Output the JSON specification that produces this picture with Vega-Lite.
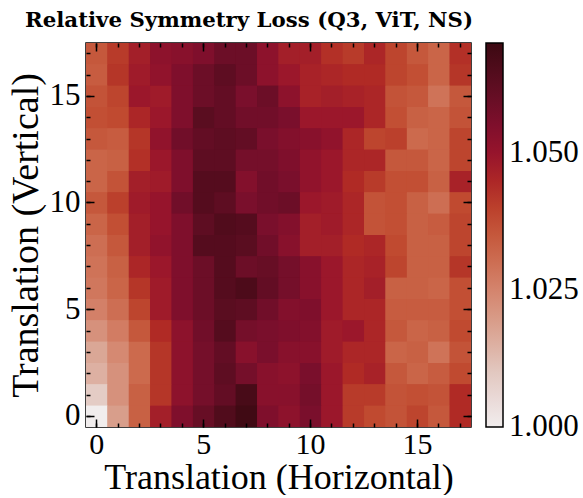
{
"$schema": "https://vega.github.io/schema/vega-lite/v6.json",
"width": 385, "height": 384,
"padding": {"left": 7, "top": 9, "right": 0, "bottom": 0},
"background": "white",
"config": {"view": {"stroke": "black", "strokeWidth": 1.5}, "font": "Liberation Serif",
  "axis": {"domain": false, "tickColor": "black", "tickWidth": 1.5, "labelColor": "black", "titleColor": "black", "labelFont": "Liberation Serif", "titleFont": "Liberation Serif", "labelFontSize": 31, "titleFontSize": 38, "titleFontWeight": "normal", "grid": false, "labelAngle": 0}},
"title": {"text": "Relative Symmetry Loss (Q3, ViT, NS)", "font": "DejaVu Serif", "fontWeight": "bold", "fontSize": 21.3, "anchor": "start", "frame": "group", "dx": -61, "offset": 11, "color": "black"},
"data": {"values": [
{"x":0,"y":17,"v":1.035},{"x":1,"y":17,"v":1.041},{"x":2,"y":17,"v":1.047},{"x":3,"y":17,"v":1.052},{"x":4,"y":17,"v":1.053},{"x":5,"y":17,"v":1.055},{"x":6,"y":17,"v":1.059},{"x":7,"y":17,"v":1.059},{"x":8,"y":17,"v":1.052},{"x":9,"y":17,"v":1.047},{"x":10,"y":17,"v":1.047},{"x":11,"y":17,"v":1.043},{"x":12,"y":17,"v":1.041},{"x":13,"y":17,"v":1.045},{"x":14,"y":17,"v":1.039},{"x":15,"y":17,"v":1.035},{"x":16,"y":17,"v":1.032},{"x":17,"y":17,"v":1.043},
{"x":0,"y":16,"v":1.034},{"x":1,"y":16,"v":1.042},{"x":2,"y":16,"v":1.048},{"x":3,"y":16,"v":1.051},{"x":4,"y":16,"v":1.055},{"x":5,"y":16,"v":1.059},{"x":6,"y":16,"v":1.062},{"x":7,"y":16,"v":1.059},{"x":8,"y":16,"v":1.052},{"x":9,"y":16,"v":1.049},{"x":10,"y":16,"v":1.046},{"x":11,"y":16,"v":1.045},{"x":12,"y":16,"v":1.044},{"x":13,"y":16,"v":1.044},{"x":14,"y":16,"v":1.039},{"x":15,"y":16,"v":1.037},{"x":16,"y":16,"v":1.032},{"x":17,"y":16,"v":1.042},
{"x":0,"y":15,"v":1.036},{"x":1,"y":15,"v":1.039},{"x":2,"y":15,"v":1.049},{"x":3,"y":15,"v":1.048},{"x":4,"y":15,"v":1.055},{"x":5,"y":15,"v":1.059},{"x":6,"y":15,"v":1.061},{"x":7,"y":15,"v":1.056},{"x":8,"y":15,"v":1.059},{"x":9,"y":15,"v":1.052},{"x":10,"y":15,"v":1.046},{"x":11,"y":15,"v":1.047},{"x":12,"y":15,"v":1.046},{"x":13,"y":15,"v":1.045},{"x":14,"y":15,"v":1.036},{"x":15,"y":15,"v":1.035},{"x":16,"y":15,"v":1.029},{"x":17,"y":15,"v":1.035},
{"x":0,"y":14,"v":1.037},{"x":1,"y":14,"v":1.038},{"x":2,"y":14,"v":1.045},{"x":3,"y":14,"v":1.049},{"x":4,"y":14,"v":1.055},{"x":5,"y":14,"v":1.063},{"x":6,"y":14,"v":1.061},{"x":7,"y":14,"v":1.058},{"x":8,"y":14,"v":1.058},{"x":9,"y":14,"v":1.056},{"x":10,"y":14,"v":1.049},{"x":11,"y":14,"v":1.049},{"x":12,"y":14,"v":1.049},{"x":13,"y":14,"v":1.045},{"x":14,"y":14,"v":1.037},{"x":15,"y":14,"v":1.033},{"x":16,"y":14,"v":1.032},{"x":17,"y":14,"v":1.036},
{"x":0,"y":13,"v":1.035},{"x":1,"y":13,"v":1.034},{"x":2,"y":13,"v":1.042},{"x":3,"y":13,"v":1.051},{"x":4,"y":13,"v":1.058},{"x":5,"y":13,"v":1.061},{"x":6,"y":13,"v":1.062},{"x":7,"y":13,"v":1.061},{"x":8,"y":13,"v":1.056},{"x":9,"y":13,"v":1.054},{"x":10,"y":13,"v":1.053},{"x":11,"y":13,"v":1.051},{"x":12,"y":13,"v":1.045},{"x":13,"y":13,"v":1.039},{"x":14,"y":13,"v":1.040},{"x":15,"y":13,"v":1.031},{"x":16,"y":13,"v":1.032},{"x":17,"y":13,"v":1.039},
{"x":0,"y":12,"v":1.032},{"x":1,"y":12,"v":1.033},{"x":2,"y":12,"v":1.043},{"x":3,"y":12,"v":1.049},{"x":4,"y":12,"v":1.055},{"x":5,"y":12,"v":1.062},{"x":6,"y":12,"v":1.062},{"x":7,"y":12,"v":1.057},{"x":8,"y":12,"v":1.057},{"x":9,"y":12,"v":1.055},{"x":10,"y":12,"v":1.051},{"x":11,"y":12,"v":1.049},{"x":12,"y":12,"v":1.045},{"x":13,"y":12,"v":1.045},{"x":14,"y":12,"v":1.035},{"x":15,"y":12,"v":1.035},{"x":16,"y":12,"v":1.032},{"x":17,"y":12,"v":1.039},
{"x":0,"y":11,"v":1.032},{"x":1,"y":11,"v":1.036},{"x":2,"y":11,"v":1.047},{"x":3,"y":11,"v":1.048},{"x":4,"y":11,"v":1.055},{"x":5,"y":11,"v":1.064},{"x":6,"y":11,"v":1.064},{"x":7,"y":11,"v":1.054},{"x":8,"y":11,"v":1.058},{"x":9,"y":11,"v":1.056},{"x":10,"y":11,"v":1.051},{"x":11,"y":11,"v":1.049},{"x":12,"y":11,"v":1.044},{"x":13,"y":11,"v":1.041},{"x":14,"y":11,"v":1.037},{"x":15,"y":11,"v":1.037},{"x":16,"y":11,"v":1.033},{"x":17,"y":11,"v":1.046},
{"x":0,"y":10,"v":1.035},{"x":1,"y":10,"v":1.040},{"x":2,"y":10,"v":1.048},{"x":3,"y":10,"v":1.050},{"x":4,"y":10,"v":1.058},{"x":5,"y":10,"v":1.064},{"x":6,"y":10,"v":1.062},{"x":7,"y":10,"v":1.056},{"x":8,"y":10,"v":1.058},{"x":9,"y":10,"v":1.059},{"x":10,"y":10,"v":1.049},{"x":11,"y":10,"v":1.048},{"x":12,"y":10,"v":1.045},{"x":13,"y":10,"v":1.036},{"x":14,"y":10,"v":1.037},{"x":15,"y":10,"v":1.033},{"x":16,"y":10,"v":1.030},{"x":17,"y":10,"v":1.038},
{"x":0,"y":9,"v":1.032},{"x":1,"y":9,"v":1.037},{"x":2,"y":9,"v":1.047},{"x":3,"y":9,"v":1.050},{"x":4,"y":9,"v":1.055},{"x":5,"y":9,"v":1.062},{"x":6,"y":9,"v":1.065},{"x":7,"y":9,"v":1.064},{"x":8,"y":9,"v":1.056},{"x":9,"y":9,"v":1.054},{"x":10,"y":9,"v":1.047},{"x":11,"y":9,"v":1.048},{"x":12,"y":9,"v":1.045},{"x":13,"y":9,"v":1.036},{"x":14,"y":9,"v":1.037},{"x":15,"y":9,"v":1.033},{"x":16,"y":9,"v":1.034},{"x":17,"y":9,"v":1.039},
{"x":0,"y":8,"v":1.030},{"x":1,"y":8,"v":1.035},{"x":2,"y":8,"v":1.047},{"x":3,"y":8,"v":1.051},{"x":4,"y":8,"v":1.055},{"x":5,"y":8,"v":1.064},{"x":6,"y":8,"v":1.064},{"x":7,"y":8,"v":1.063},{"x":8,"y":8,"v":1.058},{"x":9,"y":8,"v":1.053},{"x":10,"y":8,"v":1.047},{"x":11,"y":8,"v":1.047},{"x":12,"y":8,"v":1.044},{"x":13,"y":8,"v":1.045},{"x":14,"y":8,"v":1.038},{"x":15,"y":8,"v":1.033},{"x":16,"y":8,"v":1.033},{"x":17,"y":8,"v":1.039},
{"x":0,"y":7,"v":1.029},{"x":1,"y":7,"v":1.033},{"x":2,"y":7,"v":1.045},{"x":3,"y":7,"v":1.049},{"x":4,"y":7,"v":1.055},{"x":5,"y":7,"v":1.059},{"x":6,"y":7,"v":1.064},{"x":7,"y":7,"v":1.059},{"x":8,"y":7,"v":1.060},{"x":9,"y":7,"v":1.057},{"x":10,"y":7,"v":1.053},{"x":11,"y":7,"v":1.049},{"x":12,"y":7,"v":1.045},{"x":13,"y":7,"v":1.046},{"x":14,"y":7,"v":1.039},{"x":15,"y":7,"v":1.033},{"x":16,"y":7,"v":1.033},{"x":17,"y":7,"v":1.042},
{"x":0,"y":6,"v":1.028},{"x":1,"y":6,"v":1.032},{"x":2,"y":6,"v":1.042},{"x":3,"y":6,"v":1.048},{"x":4,"y":6,"v":1.055},{"x":5,"y":6,"v":1.059},{"x":6,"y":6,"v":1.064},{"x":7,"y":6,"v":1.066},{"x":8,"y":6,"v":1.061},{"x":9,"y":6,"v":1.057},{"x":10,"y":6,"v":1.053},{"x":11,"y":6,"v":1.049},{"x":12,"y":6,"v":1.045},{"x":13,"y":6,"v":1.047},{"x":14,"y":6,"v":1.033},{"x":15,"y":6,"v":1.033},{"x":16,"y":6,"v":1.032},{"x":17,"y":6,"v":1.037},
{"x":0,"y":5,"v":1.026},{"x":1,"y":5,"v":1.030},{"x":2,"y":5,"v":1.039},{"x":3,"y":5,"v":1.048},{"x":4,"y":5,"v":1.055},{"x":5,"y":5,"v":1.059},{"x":6,"y":5,"v":1.063},{"x":7,"y":5,"v":1.062},{"x":8,"y":5,"v":1.058},{"x":9,"y":5,"v":1.054},{"x":10,"y":5,"v":1.055},{"x":11,"y":5,"v":1.049},{"x":12,"y":5,"v":1.045},{"x":13,"y":5,"v":1.045},{"x":14,"y":5,"v":1.034},{"x":15,"y":5,"v":1.034},{"x":16,"y":5,"v":1.034},{"x":17,"y":5,"v":1.037},
{"x":0,"y":4,"v":1.022},{"x":1,"y":4,"v":1.027},{"x":2,"y":4,"v":1.035},{"x":3,"y":4,"v":1.044},{"x":4,"y":4,"v":1.052},{"x":5,"y":4,"v":1.058},{"x":6,"y":4,"v":1.064},{"x":7,"y":4,"v":1.057},{"x":8,"y":4,"v":1.056},{"x":9,"y":4,"v":1.055},{"x":10,"y":4,"v":1.054},{"x":11,"y":4,"v":1.048},{"x":12,"y":4,"v":1.049},{"x":13,"y":4,"v":1.045},{"x":14,"y":4,"v":1.035},{"x":15,"y":4,"v":1.032},{"x":16,"y":4,"v":1.033},{"x":17,"y":4,"v":1.038},
{"x":0,"y":3,"v":1.017},{"x":1,"y":3,"v":1.024},{"x":2,"y":3,"v":1.031},{"x":3,"y":3,"v":1.042},{"x":4,"y":3,"v":1.052},{"x":5,"y":3,"v":1.057},{"x":6,"y":3,"v":1.061},{"x":7,"y":3,"v":1.053},{"x":8,"y":3,"v":1.056},{"x":9,"y":3,"v":1.053},{"x":10,"y":3,"v":1.053},{"x":11,"y":3,"v":1.048},{"x":12,"y":3,"v":1.045},{"x":13,"y":3,"v":1.045},{"x":14,"y":3,"v":1.032},{"x":15,"y":3,"v":1.033},{"x":16,"y":3,"v":1.029},{"x":17,"y":3,"v":1.036},
{"x":0,"y":2,"v":1.015},{"x":1,"y":2,"v":1.022},{"x":2,"y":2,"v":1.031},{"x":3,"y":2,"v":1.042},{"x":4,"y":2,"v":1.052},{"x":5,"y":2,"v":1.057},{"x":6,"y":2,"v":1.062},{"x":7,"y":2,"v":1.057},{"x":8,"y":2,"v":1.053},{"x":9,"y":2,"v":1.052},{"x":10,"y":2,"v":1.056},{"x":11,"y":2,"v":1.049},{"x":12,"y":2,"v":1.044},{"x":13,"y":2,"v":1.046},{"x":14,"y":2,"v":1.035},{"x":15,"y":2,"v":1.032},{"x":16,"y":2,"v":1.034},{"x":17,"y":2,"v":1.038},
{"x":0,"y":1,"v":1.009},{"x":1,"y":1,"v":1.022},{"x":2,"y":1,"v":1.033},{"x":3,"y":1,"v":1.042},{"x":4,"y":1,"v":1.052},{"x":5,"y":1,"v":1.057},{"x":6,"y":1,"v":1.061},{"x":7,"y":1,"v":1.067},{"x":8,"y":1,"v":1.053},{"x":9,"y":1,"v":1.053},{"x":10,"y":1,"v":1.057},{"x":11,"y":1,"v":1.049},{"x":12,"y":1,"v":1.041},{"x":13,"y":1,"v":1.041},{"x":14,"y":1,"v":1.036},{"x":15,"y":1,"v":1.037},{"x":16,"y":1,"v":1.036},{"x":17,"y":1,"v":1.044},
{"x":0,"y":0,"v":1.000},{"x":1,"y":0,"v":1.019},{"x":2,"y":0,"v":1.033},{"x":3,"y":0,"v":1.047},{"x":4,"y":0,"v":1.055},{"x":5,"y":0,"v":1.060},{"x":6,"y":0,"v":1.065},{"x":7,"y":0,"v":1.069},{"x":8,"y":0,"v":1.055},{"x":9,"y":0,"v":1.052},{"x":10,"y":0,"v":1.056},{"x":11,"y":0,"v":1.049},{"x":12,"y":0,"v":1.041},{"x":13,"y":0,"v":1.038},{"x":14,"y":0,"v":1.036},{"x":15,"y":0,"v":1.039},{"x":16,"y":0,"v":1.035},{"x":17,"y":0,"v":1.044}
]},
"layer": [
  {"mark": {"type": "rect"},
   "encoding": {
     "x": {"field": "x", "type": "ordinal", "scale": {"paddingInner": 0, "paddingOuter": 0},
           "axis": {"orient": "bottom", "values": [0,5,10,15], "tickSize": -8, "labelPadding": 10, "labelFontSize": 30, "title": "Translation (Horizontal)", "titlePadding": 1, "titleFontSize": 36}},
     "y": {"field": "y", "type": "ordinal", "sort": "descending", "scale": {"paddingInner": 0, "paddingOuter": 0},
           "axis": {"orient": "left", "values": [0,5,10,15], "tickSize": -8, "labelPadding": 14, "title": "Translation (Vertical)", "titlePadding": 4}},
     "color": {"field": "v", "type": "quantitative",
       "scale": {"domain": [1.0,1.01,1.018,1.026,1.032,1.038,1.044,1.05,1.056,1.062,1.07],
                 "range": ["#f1eded","#e2c8c0","#d9a290","#d38068","#ca6548","#c04a30","#b02a25","#96142c","#7a0f2c","#5e0d22","#3c0912"]},
       "legend": {"title": null, "values": [1.0,1.025,1.05], "format": ".3f", "orient": "right", "direction": "vertical",
                  "gradientLength": 384, "gradientThickness": 17, "offset": 14, "labelOffset": 6,
                  "labelFont": "Liberation Serif", "labelFontSize": 31, "labelColor": "black", "labelBaseline": "middle",
                  "gradientStrokeColor": "black", "gradientStrokeWidth": 1.5,
                  "encode": {"labels": {"update": {"baseline": {"value": "middle"}}}}}}
   }},
  {"mark": {"type": "rect"},
   "encoding": {
     "x": {"field": "x", "type": "ordinal", "axis": {"orient": "bottom", "values": [0,1,2,3,4,5,6,7,8,9,10,11,12,13,14,15,16,17], "tickSize": -4, "labels": false, "title": null}},
     "y": {"field": "y", "type": "ordinal", "sort": "descending", "axis": {"orient": "left", "values": [0,1,2,3,4,5,6,7,8,9,10,11,12,13,14,15,16,17], "tickSize": -4, "labels": false, "title": null}},
     "color": {"field": "v", "type": "quantitative"}
   }},
  {"mark": {"type": "rect"},
   "encoding": {
     "x": {"field": "x", "type": "ordinal", "axis": {"orient": "top", "values": [0,5,10,15], "tickSize": -8, "labels": false, "title": null}},
     "y": {"field": "y", "type": "ordinal", "sort": "descending", "axis": {"orient": "right", "values": [0,5,10,15], "tickSize": -8, "labels": false, "title": null}},
     "color": {"field": "v", "type": "quantitative"}
   }},
  {"mark": {"type": "rect"},
   "encoding": {
     "x": {"field": "x", "type": "ordinal", "axis": {"orient": "top", "values": [0,1,2,3,4,5,6,7,8,9,10,11,12,13,14,15,16,17], "tickSize": -4, "labels": false, "title": null}},
     "y": {"field": "y", "type": "ordinal", "sort": "descending", "axis": {"orient": "right", "values": [0,1,2,3,4,5,6,7,8,9,10,11,12,13,14,15,16,17], "tickSize": -4, "labels": false, "title": null}},
     "color": {"field": "v", "type": "quantitative"}
   }}
],
"resolve": {"axis": {"x": "independent", "y": "independent"}}
}
